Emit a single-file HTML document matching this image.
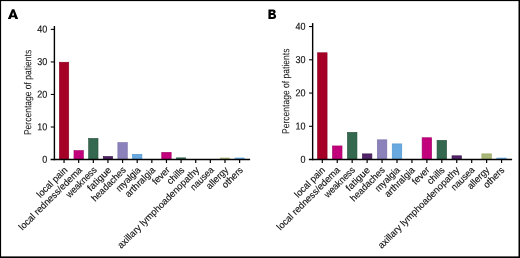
<!DOCTYPE html>
<html><head><meta charset="utf-8"><title>chart</title>
<style>
html,body{margin:0;padding:0;background:#fff;}
body{width:520px;height:258px;overflow:hidden;position:relative;font-family:"Liberation Sans",sans-serif;}
svg{text-rendering:geometricPrecision;will-change:transform;position:absolute;left:0;top:0;display:block;font-family:"Liberation Sans",sans-serif;}
</style></head><body>
<svg width="520" height="258" viewBox="0 0 520 258">
<rect x="0" y="0" width="520" height="258" fill="#fff"/>
<rect x="59.35" y="62.24" width="9.40" height="97.31" fill="#A50026" stroke="#8A0020" stroke-width="0.6"/>
<rect x="73.98" y="150.58" width="9.40" height="8.97" fill="#C2007B" stroke="#A00066" stroke-width="0.6"/>
<rect x="88.61" y="138.38" width="9.40" height="21.17" fill="#35694F" stroke="#28503C" stroke-width="0.6"/>
<rect x="103.24" y="156.43" width="9.40" height="3.12" fill="#52246A" stroke="#3A1749" stroke-width="0.6"/>
<rect x="117.87" y="142.61" width="9.40" height="16.94" fill="#8B82BB" stroke="#766CA8" stroke-width="0.6"/>
<rect x="132.50" y="154.32" width="9.40" height="5.23" fill="#68A9E0" stroke="#4C93CC" stroke-width="0.6"/>
<rect x="161.76" y="152.37" width="9.40" height="7.18" fill="#C2007B" stroke="#A00066" stroke-width="0.6"/>
<rect x="176.39" y="157.83" width="9.40" height="1.72" fill="#35694F" stroke="#35694F" stroke-width="0.6"/>
<rect x="220.28" y="157.96" width="9.40" height="1.59" fill="#A8B678" stroke="#A8B678" stroke-width="0.6"/>
<rect x="234.91" y="157.96" width="9.40" height="1.59" fill="#68A9E0" stroke="#68A9E0" stroke-width="0.6"/>
<line x1="54.40" y1="26.00" x2="54.40" y2="160.25" stroke="#000" stroke-width="1.4"/>
<line x1="50.60" y1="159.55" x2="250.10" y2="159.55" stroke="#000" stroke-width="1.4"/>
<line x1="50.80" y1="127.01" x2="54.40" y2="127.01" stroke="#000" stroke-width="1.1"/>
<line x1="50.80" y1="94.48" x2="54.40" y2="94.48" stroke="#000" stroke-width="1.1"/>
<line x1="50.80" y1="61.94" x2="54.40" y2="61.94" stroke="#000" stroke-width="1.1"/>
<line x1="50.80" y1="29.40" x2="54.40" y2="29.40" stroke="#000" stroke-width="1.1"/>
<text transform="translate(47.20,162.70) rotate(0.05) scale(0.9,1)" font-size="10.0" text-anchor="end" fill="#111" stroke="#111" stroke-width="0.15">0</text>
<text transform="translate(47.20,130.16) rotate(0.05) scale(0.9,1)" font-size="10.0" text-anchor="end" fill="#111" stroke="#111" stroke-width="0.15">10</text>
<text transform="translate(47.20,97.63) rotate(0.05) scale(0.9,1)" font-size="10.0" text-anchor="end" fill="#111" stroke="#111" stroke-width="0.15">20</text>
<text transform="translate(47.20,65.09) rotate(0.05) scale(0.9,1)" font-size="10.0" text-anchor="end" fill="#111" stroke="#111" stroke-width="0.15">30</text>
<text transform="translate(47.20,32.55) rotate(0.05) scale(0.9,1)" font-size="10.0" text-anchor="end" fill="#111" stroke="#111" stroke-width="0.15">40</text>
<line x1="64.05" y1="159.55" x2="64.05" y2="162.95" stroke="#000" stroke-width="1.2"/>
<text transform="translate(68.05,170.65) rotate(-45) scale(0.9598,1)" font-size="9.6" text-anchor="end" fill="#111" stroke="#111" stroke-width="0.12">local pain</text>
<line x1="78.68" y1="159.55" x2="78.68" y2="162.95" stroke="#000" stroke-width="1.2"/>
<text transform="translate(82.68,170.65) rotate(-45) scale(0.9596,1)" font-size="9.6" text-anchor="end" fill="#111" stroke="#111" stroke-width="0.12">local redness/edema</text>
<line x1="93.31" y1="159.55" x2="93.31" y2="162.95" stroke="#000" stroke-width="1.2"/>
<text transform="translate(97.31,170.65) rotate(-45) scale(0.9167,1)" font-size="9.6" text-anchor="end" fill="#111" stroke="#111" stroke-width="0.12">weakness</text>
<line x1="107.94" y1="159.55" x2="107.94" y2="162.95" stroke="#000" stroke-width="1.2"/>
<text transform="translate(111.94,170.65) rotate(-45) scale(1.0305,1)" font-size="9.6" text-anchor="end" fill="#111" stroke="#111" stroke-width="0.12">fatigue</text>
<line x1="122.57" y1="159.55" x2="122.57" y2="162.95" stroke="#000" stroke-width="1.2"/>
<text transform="translate(126.57,170.65) rotate(-45) scale(0.9444,1)" font-size="9.6" text-anchor="end" fill="#111" stroke="#111" stroke-width="0.12">headaches</text>
<line x1="137.20" y1="159.55" x2="137.20" y2="162.95" stroke="#000" stroke-width="1.2"/>
<text transform="translate(141.20,170.65) rotate(-45) scale(0.9222,1)" font-size="9.6" text-anchor="end" fill="#111" stroke="#111" stroke-width="0.12">myalgia</text>
<line x1="151.83" y1="159.55" x2="151.83" y2="162.95" stroke="#000" stroke-width="1.2"/>
<text transform="translate(155.83,170.65) rotate(-45) scale(0.9603,1)" font-size="9.6" text-anchor="end" fill="#111" stroke="#111" stroke-width="0.12">arthralgia</text>
<line x1="166.46" y1="159.55" x2="166.46" y2="162.95" stroke="#000" stroke-width="1.2"/>
<text transform="translate(170.46,170.65) rotate(-45) scale(0.9593,1)" font-size="9.6" text-anchor="end" fill="#111" stroke="#111" stroke-width="0.12">fever</text>
<line x1="181.09" y1="159.55" x2="181.09" y2="162.95" stroke="#000" stroke-width="1.2"/>
<text transform="translate(185.09,170.65) rotate(-45) scale(0.9593,1)" font-size="9.6" text-anchor="end" fill="#111" stroke="#111" stroke-width="0.12">chills</text>
<line x1="195.72" y1="159.55" x2="195.72" y2="162.95" stroke="#000" stroke-width="1.2"/>
<text transform="translate(199.72,170.65) rotate(-45) scale(0.9765,1)" font-size="9.6" text-anchor="end" fill="#111" stroke="#111" stroke-width="0.12">axillary lymphoadenopathy</text>
<line x1="210.35" y1="159.55" x2="210.35" y2="162.95" stroke="#000" stroke-width="1.2"/>
<text transform="translate(214.35,170.65) rotate(-45) scale(0.9112,1)" font-size="9.6" text-anchor="end" fill="#111" stroke="#111" stroke-width="0.12">nausea</text>
<line x1="224.98" y1="159.55" x2="224.98" y2="162.95" stroke="#000" stroke-width="1.2"/>
<text transform="translate(228.98,170.65) rotate(-45) scale(0.9580,1)" font-size="9.6" text-anchor="end" fill="#111" stroke="#111" stroke-width="0.12">allergy</text>
<line x1="239.61" y1="159.55" x2="239.61" y2="162.95" stroke="#000" stroke-width="1.2"/>
<text transform="translate(243.61,170.65) rotate(-45) scale(0.9590,1)" font-size="9.6" text-anchor="end" fill="#111" stroke="#111" stroke-width="0.12">others</text>
<text transform="translate(31.20,92.45) rotate(-90.05) scale(0.837,1)" font-size="10.2" text-anchor="middle" fill="#111">Percentage of patients</text>
<path fill="#000" fill-rule="evenodd" d="M7.85 19.05 L12.0 9.25 H14.3 L18.15 19.05 H15.35 L14.7 17.35 H11.3 L10.65 19.05 Z M13.1 11.9 L14.15 15.45 H12.0 Z"/>
<rect x="317.53" y="52.78" width="9.55" height="106.77" fill="#A50026" stroke="#8A0020" stroke-width="0.6"/>
<rect x="332.47" y="145.95" width="9.55" height="13.60" fill="#C2007B" stroke="#A00066" stroke-width="0.6"/>
<rect x="347.41" y="132.32" width="9.55" height="27.23" fill="#35694F" stroke="#28503C" stroke-width="0.6"/>
<rect x="362.35" y="153.87" width="9.55" height="5.69" fill="#52246A" stroke="#3A1749" stroke-width="0.6"/>
<rect x="377.29" y="139.83" width="9.55" height="19.72" fill="#8B82BB" stroke="#766CA8" stroke-width="0.6"/>
<rect x="392.23" y="143.89" width="9.55" height="15.66" fill="#68A9E0" stroke="#4C93CC" stroke-width="0.6"/>
<rect x="422.11" y="137.74" width="9.55" height="21.81" fill="#C2007B" stroke="#A00066" stroke-width="0.6"/>
<rect x="437.05" y="140.33" width="9.55" height="19.22" fill="#35694F" stroke="#28503C" stroke-width="0.6"/>
<rect x="451.99" y="155.79" width="9.55" height="3.76" fill="#52246A" stroke="#3A1749" stroke-width="0.6"/>
<rect x="481.87" y="153.87" width="9.55" height="5.69" fill="#A8B678" stroke="#94A35A" stroke-width="0.6"/>
<rect x="496.81" y="158.02" width="9.55" height="1.53" fill="#68A9E0" stroke="#68A9E0" stroke-width="0.6"/>
<line x1="312.65" y1="23.10" x2="312.65" y2="160.25" stroke="#000" stroke-width="1.4"/>
<line x1="308.85" y1="159.55" x2="512.10" y2="159.55" stroke="#000" stroke-width="1.4"/>
<line x1="309.05" y1="126.30" x2="312.65" y2="126.30" stroke="#000" stroke-width="1.1"/>
<line x1="309.05" y1="93.05" x2="312.65" y2="93.05" stroke="#000" stroke-width="1.1"/>
<line x1="309.05" y1="59.80" x2="312.65" y2="59.80" stroke="#000" stroke-width="1.1"/>
<line x1="309.05" y1="26.55" x2="312.65" y2="26.55" stroke="#000" stroke-width="1.1"/>
<text transform="translate(305.45,162.70) rotate(0.05) scale(0.9,1)" font-size="10.0" text-anchor="end" fill="#111" stroke="#111" stroke-width="0.15">0</text>
<text transform="translate(305.45,129.45) rotate(0.05) scale(0.9,1)" font-size="10.0" text-anchor="end" fill="#111" stroke="#111" stroke-width="0.15">10</text>
<text transform="translate(305.45,96.20) rotate(0.05) scale(0.9,1)" font-size="10.0" text-anchor="end" fill="#111" stroke="#111" stroke-width="0.15">20</text>
<text transform="translate(305.45,62.95) rotate(0.05) scale(0.9,1)" font-size="10.0" text-anchor="end" fill="#111" stroke="#111" stroke-width="0.15">30</text>
<text transform="translate(305.45,29.70) rotate(0.05) scale(0.9,1)" font-size="10.0" text-anchor="end" fill="#111" stroke="#111" stroke-width="0.15">40</text>
<line x1="322.30" y1="159.55" x2="322.30" y2="162.95" stroke="#000" stroke-width="1.2"/>
<text transform="translate(325.70,170.65) rotate(-45) scale(0.9598,1)" font-size="9.6" text-anchor="end" fill="#111" stroke="#111" stroke-width="0.12">local pain</text>
<line x1="337.24" y1="159.55" x2="337.24" y2="162.95" stroke="#000" stroke-width="1.2"/>
<text transform="translate(340.64,170.65) rotate(-45) scale(0.9596,1)" font-size="9.6" text-anchor="end" fill="#111" stroke="#111" stroke-width="0.12">local redness/edema</text>
<line x1="352.18" y1="159.55" x2="352.18" y2="162.95" stroke="#000" stroke-width="1.2"/>
<text transform="translate(355.58,170.65) rotate(-45) scale(0.9167,1)" font-size="9.6" text-anchor="end" fill="#111" stroke="#111" stroke-width="0.12">weakness</text>
<line x1="367.12" y1="159.55" x2="367.12" y2="162.95" stroke="#000" stroke-width="1.2"/>
<text transform="translate(370.52,170.65) rotate(-45) scale(1.0305,1)" font-size="9.6" text-anchor="end" fill="#111" stroke="#111" stroke-width="0.12">fatigue</text>
<line x1="382.06" y1="159.55" x2="382.06" y2="162.95" stroke="#000" stroke-width="1.2"/>
<text transform="translate(385.46,170.65) rotate(-45) scale(0.9444,1)" font-size="9.6" text-anchor="end" fill="#111" stroke="#111" stroke-width="0.12">headaches</text>
<line x1="397.00" y1="159.55" x2="397.00" y2="162.95" stroke="#000" stroke-width="1.2"/>
<text transform="translate(400.40,170.65) rotate(-45) scale(0.9222,1)" font-size="9.6" text-anchor="end" fill="#111" stroke="#111" stroke-width="0.12">myalgia</text>
<line x1="411.94" y1="159.55" x2="411.94" y2="162.95" stroke="#000" stroke-width="1.2"/>
<text transform="translate(415.34,170.65) rotate(-45) scale(0.9603,1)" font-size="9.6" text-anchor="end" fill="#111" stroke="#111" stroke-width="0.12">arthralgia</text>
<line x1="426.88" y1="159.55" x2="426.88" y2="162.95" stroke="#000" stroke-width="1.2"/>
<text transform="translate(430.28,170.65) rotate(-45) scale(0.9593,1)" font-size="9.6" text-anchor="end" fill="#111" stroke="#111" stroke-width="0.12">fever</text>
<line x1="441.82" y1="159.55" x2="441.82" y2="162.95" stroke="#000" stroke-width="1.2"/>
<text transform="translate(445.22,170.65) rotate(-45) scale(0.9593,1)" font-size="9.6" text-anchor="end" fill="#111" stroke="#111" stroke-width="0.12">chills</text>
<line x1="456.76" y1="159.55" x2="456.76" y2="162.95" stroke="#000" stroke-width="1.2"/>
<text transform="translate(460.16,170.65) rotate(-45) scale(0.9765,1)" font-size="9.6" text-anchor="end" fill="#111" stroke="#111" stroke-width="0.12">axillary lymphoadenopathy</text>
<line x1="471.70" y1="159.55" x2="471.70" y2="162.95" stroke="#000" stroke-width="1.2"/>
<text transform="translate(475.10,170.65) rotate(-45) scale(0.9112,1)" font-size="9.6" text-anchor="end" fill="#111" stroke="#111" stroke-width="0.12">nausea</text>
<line x1="486.64" y1="159.55" x2="486.64" y2="162.95" stroke="#000" stroke-width="1.2"/>
<text transform="translate(490.04,170.65) rotate(-45) scale(0.9580,1)" font-size="9.6" text-anchor="end" fill="#111" stroke="#111" stroke-width="0.12">allergy</text>
<line x1="501.58" y1="159.55" x2="501.58" y2="162.95" stroke="#000" stroke-width="1.2"/>
<text transform="translate(504.98,170.65) rotate(-45) scale(0.9590,1)" font-size="9.6" text-anchor="end" fill="#111" stroke="#111" stroke-width="0.12">others</text>
<text transform="translate(289.20,91.25) rotate(-90.05) scale(0.837,1)" font-size="10.2" text-anchor="middle" fill="#111">Percentage of patients</text>
<path fill="#000" fill-rule="evenodd" d="M268.45 9.4 H273 C274.9 9.4 275.6 10.6 275.6 11.8 C275.6 12.9 275 13.6 274.2 13.9 C275.3 14.2 276.1 15 276.1 16.2 C276.1 17.9 274.9 18.95 273 18.95 H268.45 Z M270.8 11.4 H272.5 C273.2 11.4 273.4 11.8 273.4 12.3 C273.4 12.8 273.1 13.1 272.5 13.1 H270.8 Z M270.8 15.1 H272.7 C273.5 15.1 273.8 15.5 273.8 16.1 C273.8 16.7 273.4 17.1 272.7 17.1 H270.8 Z"/>
<rect x="0" y="0" width="520" height="1.1" fill="#000"/>
<rect x="0" y="0" width="1.1" height="258" fill="#000"/>
<rect x="518.5" y="0" width="1.5" height="258" fill="#000"/>
<rect x="0" y="256.4" width="520" height="1.6" fill="#000"/>
</svg>
</body></html>
